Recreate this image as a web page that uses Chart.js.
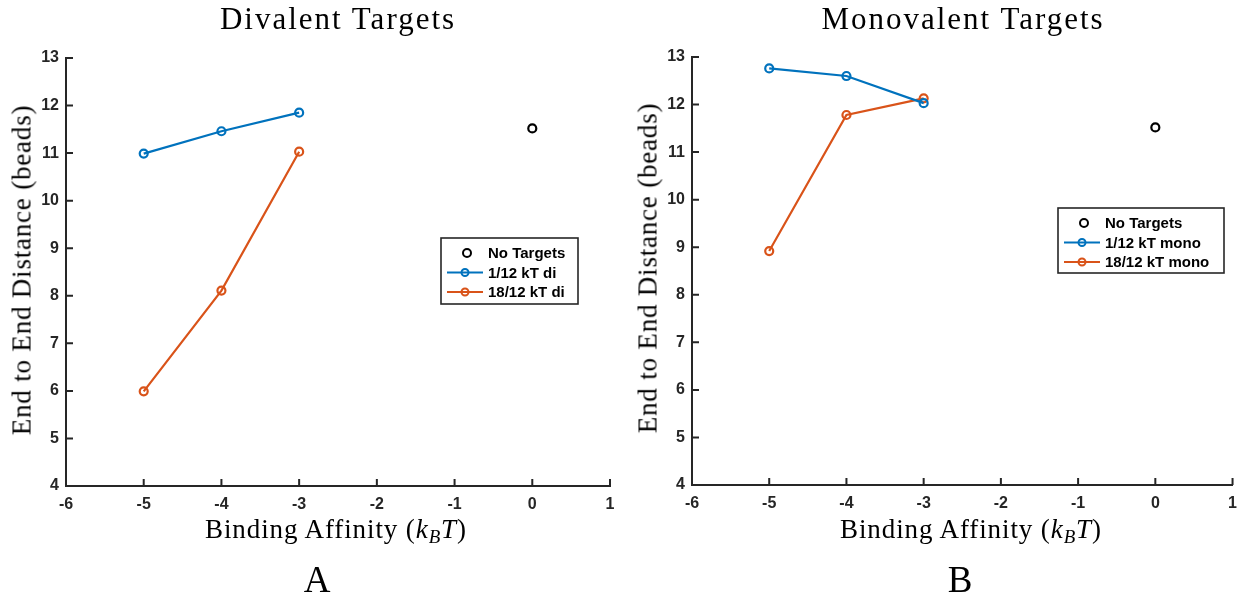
<!DOCTYPE html>
<html>
<head>
<meta charset="utf-8">
<script src="https://cdn.jsdelivr.net/npm/chart.js"></script>
<style>
  body { margin: 0; background: #fff; width: 1246px; height: 602px; position: relative; overflow: hidden; }
  canvas { position: absolute; top: 0; }
  .txt { position: absolute; font-family: "Liberation Serif", serif; color: #000; white-space: nowrap; line-height: 1; }
  .title { font-size: 31px; letter-spacing: 2px; top: 3px; transform: translateX(-50%); }
  .xlab { font-size: 27px; letter-spacing: 0.9px; top: 516px; transform: translateX(-50%); }
  .ylab { font-size: 27px; letter-spacing: 0.8px; transform: translate(-50%, -50%) rotate(-90deg); }
  .panel { font-size: 37px; top: 561px; transform: translateX(-50%); }
  sub { font-size: 0.7em; vertical-align: -0.25em; }
</style>
</head>
<body>
<canvas id="left" width="630" height="602" style="left:0"></canvas>
<canvas id="right" width="620" height="602" style="left:626px"></canvas>

<div class="txt title" style="left:338px">Divalent Targets</div>
<div class="txt title" style="left:963px">Monovalent Targets</div>
<div class="txt xlab" style="left:336px">Binding Affinity (<i>k</i><sub><i>B</i></sub><i>T</i>)</div>
<div class="txt xlab" style="left:971px">Binding Affinity (<i>k</i><sub><i>B</i></sub><i>T</i>)</div>
<div class="txt ylab" style="left:22px; top:270px">End to End Distance (beads)</div>
<div class="txt ylab" style="left:648px; top:268px">End to End Distance (beads)</div>
<div class="txt panel" style="left:317px">A</div>
<div class="txt panel" style="left:960px">B</div>

<script>
// data
const affinity = [-5, -4, -3];
const noTargetX = [0];

const diNoTarget = [11.52];
const diLow = [10.99, 11.46, 11.85];   // 1/12 kT di
const diHigh = [5.99, 8.11, 11.03];    // 18/12 kT di

const monoNoTarget = [11.52];
const monoLow = [12.76, 12.60, 12.03]; // 1/12 kT mono
const monoHigh = [8.92, 11.78, 12.13]; // 18/12 kT mono

const xTicks = [-6, -5, -4, -3, -2, -1, 0, 1];
const yTicks = [4, 5, 6, 7, 8, 9, 10, 11, 12, 13];

const blue = '#0072BD';
const orange = '#D95319';
const axisCol = '#262626';

function pts(xs, ys) {
  return xs.map((x, i) => ({ x: x, y: ys[i] }));
}

function series(label, xs, ys, color, line) {
  return {
    label: label,
    data: pts(xs, ys),
    showLine: line,
    borderColor: color,
    backgroundColor: color,
    borderWidth: 2.2,
    pointRadius: 4,
    pointHoverRadius: 4,
    pointBorderWidth: 2.2,
    pointBorderColor: color,
    pointBackgroundColor: 'rgba(0,0,0,0)',
    clip: false
  };
}

// inward tick marks, matlab style
const innerTicks = {
  id: 'innerTicks',
  afterDraw(chart) {
    const ctx = chart.ctx;
    const xs = chart.scales.x, ys = chart.scales.y;
    const a = chart.chartArea;
    ctx.save();
    ctx.strokeStyle = axisCol;
    ctx.lineWidth = 2;
    ctx.beginPath();
    xs.ticks.forEach(t => {
      const px = xs.getPixelForValue(t.value);
      ctx.moveTo(px, a.bottom);
      ctx.lineTo(px, a.bottom - 7);
    });
    ys.ticks.forEach(t => {
      const py = ys.getPixelForValue(t.value);
      ctx.moveTo(a.left, py);
      ctx.lineTo(a.left + 7, py);
    });
    ctx.stroke();
    ctx.restore();
  }
};

// boxed legend inside the axes
const boxLegend = {
  id: 'boxLegend',
  afterDraw(chart, args, opts) {
    const ctx = chart.ctx;
    ctx.save();
    ctx.fillStyle = '#fff';
    ctx.fillRect(opts.x, opts.y, opts.w, opts.h);
    ctx.strokeStyle = axisCol;
    ctx.lineWidth = 1.6;
    ctx.strokeRect(opts.x, opts.y, opts.w, opts.h);
    ctx.font = 'bold 15px "Liberation Sans", Arial, sans-serif';
    ctx.textBaseline = 'middle';
    chart.data.datasets.forEach((ds, i) => {
      const cy = opts.y + 15 + i * 19.5;
      const lx0 = opts.x + 6, lx1 = opts.x + 42;
      const mx = (lx0 + lx1) / 2;
      ctx.strokeStyle = ds.borderColor;
      ctx.lineWidth = 2.2;
      if (ds.showLine) {
        ctx.beginPath();
        ctx.moveTo(lx0, cy);
        ctx.lineTo(lx1, cy);
        ctx.stroke();
      }
      ctx.lineWidth = 2;
      ctx.beginPath();
      ctx.arc(ds.showLine ? mx : mx + 2, cy, ds.showLine ? 3.5 : 4, 0, Math.PI * 2);
      ctx.stroke();
      ctx.fillStyle = '#000';
      ctx.fillText(ds.label, opts.x + 47, cy + 1);
    });
    ctx.restore();
  }
};

function makeChart(id, datasets, pad, legendBox) {
  return new Chart(document.getElementById(id), {
    type: 'scatter',
    data: { datasets: datasets },
    options: {
      responsive: false,
      animation: false,
      devicePixelRatio: 1,
      layout: { padding: pad },
      plugins: {
        legend: { display: false },
        tooltip: { enabled: false },
        boxLegend: legendBox
      },
      scales: {
        x: {
          type: 'linear',
          min: xTicks[0],
          max: xTicks[xTicks.length - 1],
          afterBuildTicks: s => { s.ticks = xTicks.map(v => ({ value: v })); },
          afterFit: s => { s.height = 30; },
          grid: { display: false, drawTicks: false },
          border: { display: true, color: axisCol, width: 2 },
          ticks: {
            padding: 9,
            color: axisCol,
            font: { family: '"Liberation Sans", Arial, sans-serif', size: 16, weight: 'bold' }
          }
        },
        y: {
          type: 'linear',
          min: yTicks[0],
          max: yTicks[yTicks.length - 1],
          afterBuildTicks: s => { s.ticks = yTicks.map(v => ({ value: v })); },
          afterFit: s => { s.width = 66; },
          grid: { display: false, drawTicks: false },
          border: { display: true, color: axisCol, width: 2 },
          ticks: {
            padding: 7,
            color: axisCol,
            font: { family: '"Liberation Sans", Arial, sans-serif', size: 16, weight: 'bold' }
          }
        }
      }
    },
    plugins: [innerTicks, boxLegend]
  });
}

makeChart('left', [
  series('No Targets', noTargetX, diNoTarget, '#000', false),
  series('1/12 kT di', affinity, diLow, blue, true),
  series('18/12 kT di', affinity, diHigh, orange, true)
], { left: 0, right: 20, top: 58, bottom: 86 }, { x: 441, y: 238, w: 137, h: 66 });

makeChart('right', [
  series('No Targets', noTargetX, monoNoTarget, '#000', false),
  series('1/12 kT mono', affinity, monoLow, blue, true),
  series('18/12 kT mono', affinity, monoHigh, orange, true)
], { left: 0, right: 6, top: 57, bottom: 87 }, { x: 432, y: 208, w: 166, h: 65 });
</script>
</body>
</html>
